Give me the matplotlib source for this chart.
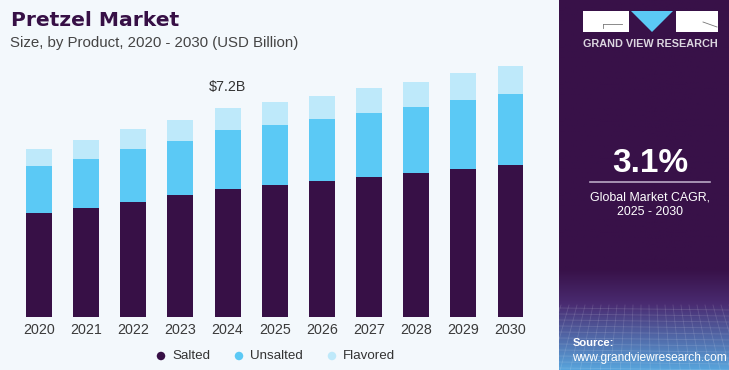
import matplotlib
matplotlib.use("Agg")
import matplotlib.pyplot as plt
import numpy as np
from matplotlib.patches import Rectangle, Polygon, Ellipse

years = ["2020", "2021", "2022", "2023", "2024", "2025", "2026", "2027", "2028", "2029", "2030"]
salted = [3.57, 3.77, 3.97, 4.19, 4.42, 4.54, 4.67, 4.81, 4.95, 5.09, 5.23]
unsalted = [1.63, 1.69, 1.81, 1.89, 2.01, 2.08, 2.15, 2.22, 2.29, 2.38, 2.46]
flavored = [0.58, 0.64, 0.68, 0.72, 0.77, 0.78, 0.80, 0.85, 0.87, 0.93, 0.97]
series_names = ["Salted", "Unsalted", "Flavored"]
colors = ["#371046", "#5BC9F5", "#BEE9FA"]
annot_year = "2024"
annot_text = "$7.2B"

plt.rcParams['font.family'] = ['Liberation Sans', 'DejaVu Sans']

W, H = 729, 370
fig = plt.figure(figsize=(W / 100, H / 100), dpi=100)
bg = "#F3F8FC"
fig.patch.set_facecolor(bg)

def fx(px):
    return px / W

def fy(py):
    return 1 - py / H

# main axes
ymax = 9.5
px_per_unit = 209 / 7.2
left_px, right_px = 10.6, 538.8
base_px = 317
top_px = base_px - ymax * px_per_unit
ax = fig.add_axes([fx(left_px), fy(base_px), fx(right_px - left_px), (base_px - top_px) / H])
ax.set_facecolor("none")
x = np.arange(len(years))
bw = 0.55
bottom = np.zeros(len(years))
for vals, c in zip([salted, unsalted, flavored], colors):
    ax.bar(x, vals, bw, bottom=bottom, color=c, edgecolor="none")
    bottom += np.array(vals)
ax.set_xlim(-0.6, 10.6)
ax.set_ylim(0, ymax)
for s in ax.spines.values():
    s.set_visible(False)
ax.set_yticks([])
ax.set_xticks(x)
ax.set_xticklabels(years, fontsize=10.3, color="#3a3a3a")
ax.tick_params(axis="x", length=0, pad=4)

i = years.index(annot_year)
ax.annotate(annot_text, (x[i], bottom[i]), xytext=(0, 10), textcoords="offset points",
            ha="center", va="bottom", fontsize=10.3, color="#333333")

# title
fig.text(fx(11), fy(20), "Pretzel Market", fontsize=14.6, fontweight="bold", color="#371046",
         ha="left", va="center", family=["DejaVu Sans"])
fig.text(fx(10.5), fy(43.5), "Size, by Product, 2020 - 2030 (USD Billion)", fontsize=10.8, color="#444444",
         ha="left", va="center")

# legend
leg_y = fy(356)
for name, c, cx in zip(series_names, colors, [161, 239, 332]):
    fig.patches.append(Ellipse((fx(cx), leg_y), width=8.5 / W, height=8.5 / H, transform=fig.transFigure,
                               facecolor=c, edgecolor="none"))
    fig.text(fx(cx + 11), leg_y, name, fontsize=9.6, color="#333333", ha="left", va="center")

# right panel
px0 = 559
pw = W - px0
pax = fig.add_axes([fx(px0), 0, fx(pw), 1])
pax.axis("off")
purple = np.array([0x38, 0x11, 0x48]) / 255
purple2 = np.array([0x4a, 0x2c, 0x72]) / 255
blue = np.array([0x58, 0xa4, 0xdc]) / 255
n = 300
grad = np.zeros((n, 1, 3))
ys = np.linspace(0, H, n)
for k, yy in enumerate(ys):
    if yy < 270:
        c = purple
    elif yy < 305:
        t = (yy - 270) / 35
        c = purple * (1 - t) + purple2 * t
    else:
        t = min(1, (yy - 305) / 65)
        c = purple2 * (1 - t) + blue * t
    grad[k, 0] = c
pax.imshow(grad, extent=[0, pw, H, 0], aspect="auto")
# faint mesh
for yy in np.arange(308, 372, 6):
    pax.plot([0, pw], [yy, yy + 2], color="white", alpha=0.13, lw=0.6)
for xx in np.arange(-30, pw + 40, 8):
    pax.plot([xx, xx + (xx - 85) * 0.25], [305, 370], color="white", alpha=0.13, lw=0.6)
pax.set_xlim(0, pw)
pax.set_ylim(H, 0)

# logo
def P(xp):
    return xp - px0
pax.add_patch(Rectangle((P(583), 11), 46, 21, facecolor="white", edgecolor="none"))
pax.add_patch(Polygon([[P(631), 11], [P(673), 11], [P(652), 32]], closed=True, facecolor="#5BC9F5", edgecolor="none"))
pax.add_patch(Rectangle((P(676), 11), 42, 21, facecolor="white", edgecolor="none"))
pax.plot([P(603), P(622)], [24, 24], color="#777777", lw=0.6)
pax.plot([P(603), P(603)], [24, 28], color="#777777", lw=0.6)
pax.plot([P(703), P(717)], [22, 27], color="#777777", lw=0.6)
pax.text(P(650.5), 44, "GRAND VIEW RESEARCH", fontsize=7.8, fontweight="bold", color="#dcd6e0",
         ha="center", va="center")

pax.text(P(650), 163, "3.1%", fontsize=24, fontweight="bold", color="white", ha="center", va="center")
pax.plot([P(590), P(710)], [182, 182], color="#b9a9c4", lw=1.2)
pax.text(P(650), 197, "Global Market CAGR,", fontsize=8.9, color="white", ha="center", va="center")
pax.text(P(650), 212, "2025 - 2030", fontsize=8.9, color="white", ha="center", va="center")

pax.text(P(573), 343, "Source:", fontsize=8, fontweight="bold", color="white", ha="left", va="center")
pax.text(P(572), 358, "www.grandviewresearch.com", fontsize=8.6, color="white", ha="left", va="center")

fig.savefig("out.png", dpi=100, facecolor=fig.get_facecolor())
